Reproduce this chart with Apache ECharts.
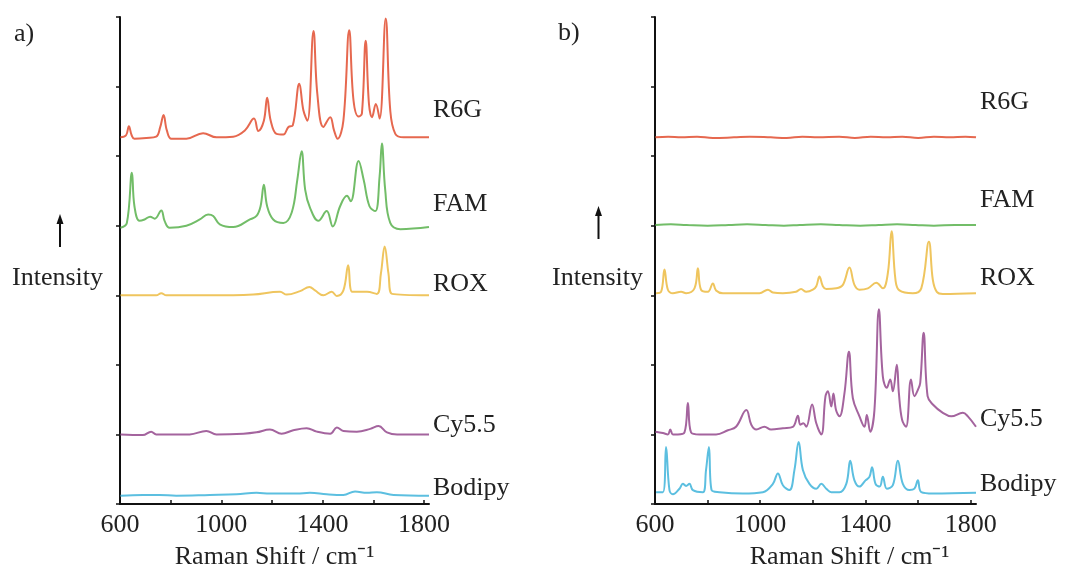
<!DOCTYPE html>
<html lang="en">
<head>
<meta charset="UTF-8">
<title>Raman spectra</title>
<script src="https://cdn.jsdelivr.net/npm/echarts@6/dist/echarts.min.js"></script>
<style>
  html, body { margin: 0; padding: 0; background: #fff; }
  #main { width: 1065px; height: 574px; }
</style>
</head>
<body>
<div id="main"></div>
<script>
// dye names, same order in both panels
var names = ['R6G', 'FAM', 'ROX', 'Cy5.5', 'Bodipy'];

// vertical offsets of each trace (stacked display), per panel
var offsetsA = [527, 397, 300, 100, 12];
var offsetsB = [527, 401, 303, 100, 15];

// x tick values
var xTicks = [600, 800, 1000, 1200, 1400, 1600, 1800];
var xLabels = [600, 1000, 1400, 1800];

// panel a) spectra: [Raman shift, intensity above own baseline]
var aR6G = [[602,0],[624,3],[635,16],[646,3],[657,-2],[704,-1],[743,1],[759,15],[772,32],[785,10],[803,-2],[862,-2],[928,6],[981,0],[1047,1],[1093,10],[1129,27],[1146,9],[1168,24],[1181,57],[1195,24],[1218,5],[1245,4],[1265,15],[1282,17],[1308,77],[1324,39],[1340,24],[1364,153],[1379,63],[1403,15],[1430,29],[1445,10],[1459,-2],[1482,24],[1505,154],[1522,53],[1542,30],[1555,34],[1570,139],[1583,48],[1595,29],[1610,48],[1625,27],[1649,171],[1667,39],[1687,5],[1720,0],[1820,0]];
var aFAM = [[602,0],[627,7],[647,79],[657,31],[677,10],[697,12],[719,16],[737,13],[763,25],[776,10],[796,0],[862,3],[915,12],[948,19],[968,17],[994,5],[1047,1],[1113,12],[1139,17],[1155,31],[1168,62],[1181,31],[1205,12],[1245,7],[1278,22],[1300,69],[1317,110],[1331,55],[1350,29],[1383,10],[1416,24],[1440,2],[1469,31],[1496,46],[1511,38],[1542,96],[1562,69],[1585,31],[1608,24],[1625,74],[1634,121],[1647,55],[1667,7],[1707,-2],[1820,1]];
var aROX = [[602,0],[743,0],[763,3],[783,0],[1047,0],[1126,1],[1232,5],[1258,1],[1311,6],[1348,12],[1370,7],[1403,0],[1436,5],[1456,-1],[1482,7],[1501,43],[1517,5],[1548,5],[1575,5],[1614,2],[1630,31],[1645,70],[1660,31],[1674,2],[1820,0]];
var aCy = [[602,0],[690,-1],[723,4],[743,0],[875,0],[941,5],[981,0],[1087,1],[1139,3],[1192,7],[1238,1],[1284,6],[1337,9],[1377,4],[1430,1],[1456,10],[1482,5],[1535,4],[1588,8],[1621,12],[1654,3],[1694,0],[1820,0]];
var aBod = [[602,0],[690,1],[756,1],[822,0],[954,1],[1060,2],[1139,4],[1192,3],[1298,3],[1350,4],[1416,2],[1482,1],[1528,6],[1575,4],[1614,5],[1680,1],[1820,0]];

// panel b) spectra
var bR6G = [[602,0],[650,1],[700,0],[760,1],[820,-1],[900,0],[960,1],[1040,0],[1100,-1],[1160,1],[1220,0],[1300,1],[1360,-1],[1420,1],[1480,0],[1540,1],[1600,-1],[1660,1],[1720,0],[1780,1],[1820,0]];
var bFAM = [[602,0],[660,1],[720,0],[800,-1],[880,0],[950,1],[1020,0],[1090,-1],[1150,0],[1230,1],[1300,0],[1380,-1],[1450,0],[1520,1],[1590,0],[1660,-1],[1740,0],[1820,0]];
var bROX = [[604,0],[623,2],[636,34],[649,5],[668,0],[699,2],[718,0],[750,7],[763,36],[775,5],[801,2],[820,14],[832,4],[858,0],[934,0],[997,0],[1029,5],[1048,1],[1086,0],[1136,2],[1155,6],[1175,2],[1200,5],[1213,10],[1225,24],[1238,10],[1251,6],[1289,7],[1314,12],[1339,37],[1358,12],[1377,5],[1409,7],[1441,15],[1466,7],[1485,29],[1499,89],[1514,19],[1529,4],[1580,0],[1612,7],[1641,74],[1656,19],[1671,2],[1694,-1],[1820,0]];
var bCy = [[602,4],[630,2],[649,0],[658,7],[668,0],[687,0],[712,3],[725,45],[737,3],[769,0],[832,0],[877,6],[908,11],[947,35],[966,14],[985,7],[1016,11],[1041,7],[1086,9],[1124,11],[1143,27],[1152,14],[1164,16],[1175,11],[1197,43],[1213,16],[1232,0],[1248,55],[1257,62],[1270,40],[1278,59],[1288,35],[1301,26],[1320,59],[1337,119],[1352,52],[1377,26],[1396,11],[1405,28],[1418,4],[1434,35],[1451,180],[1466,83],[1481,67],[1494,79],[1504,62],[1519,100],[1527,59],[1539,21],[1554,11],[1573,79],[1586,55],[1599,64],[1608,74],[1621,146],[1636,55],[1656,43],[1694,31],[1726,26],[1770,31],[1789,26],[1820,11]];
var bBod = [[604,2],[630,2],[642,67],[655,5],[668,-1],[693,7],[706,14],[718,11],[731,14],[744,5],[782,2],[794,34],[805,67],[815,5],[845,2],[934,0],[1010,2],[1048,14],[1067,29],[1086,12],[1111,5],[1130,34],[1146,74],[1162,34],[1187,14],[1213,7],[1232,14],[1251,7],[1270,2],[1301,2],[1327,14],[1342,47],[1358,19],[1377,10],[1400,19],[1415,24],[1425,38],[1438,14],[1454,10],[1466,24],[1481,7],[1504,12],[1523,47],[1542,14],[1567,5],[1586,7],[1599,19],[1612,2],[1656,0],[1820,1]];

var spectraA = [aR6G, aFAM, aROX, aCy, aBod];
var spectraB = [bR6G, bFAM, bROX, bCy, bBod];

var colors = ['#e6684f', '#72bd68', '#efc55e', '#a4649e', '#5cbfe0'];
var labelLiftA = [27, 23, 11, 9, 7];
var labelLiftB = [35, 25, 15, 8, 9];

var FONT = '"Liberation Serif", "Times New Roman", serif';
var TXT = '#222';
var FS = 26;

var myChart = echarts.init(document.getElementById('main'));

function xAxisOf(gi, nameShift) {
    return {
        type: 'value', gridIndex: gi, min: 600, max: 1820,
        name: 'Raman Shift / cm\u207B\u00B9',
        nameLocation: 'middle', nameGap: 40,
        nameTextStyle: { fontFamily: FONT, fontSize: FS, color: TXT, padding: [0, 0, 0, nameShift] },
        axisLine: { lineStyle: { color: '#111', width: 2 } },
        axisTick: { inside: true, length: 4, lineStyle: { color: '#111', width: 1.5 }, customValues: xTicks },
        axisLabel: {
            fontFamily: FONT, fontSize: FS, color: TXT, margin: 8, customValues: xLabels,
            formatter: function (v) { return String(v); }
        },
        splitLine: { show: false }
    };
}
function yAxisOf(gi) {
    return {
        type: 'value', gridIndex: gi, min: 0, max: 700, interval: 100,
        axisLine: { show: true, lineStyle: { color: '#111', width: 2 } },
        axisTick: { show: true, inside: false, length: 4, lineStyle: { color: '#111', width: 1.5 } },
        axisLabel: { show: false },
        splitLine: { show: false }
    };
}

function buildSeries(spectra, offsets, lifts, gi) {
    return spectra.map(function (pts, i) {
        return {
            name: names[i], type: 'line',
            xAxisIndex: gi, yAxisIndex: gi,
            data: pts.map(function (p) { return [p[0], p[1] + offsets[i]]; }),
            showSymbol: false, smooth: 0.4,
            lineStyle: { color: colors[i], width: 2 },
            endLabel: {
                show: true, formatter: names[i], distance: 4,
                offset: [0, -lifts[i]],
                fontFamily: FONT, fontSize: FS, color: TXT
            }
        };
    });
}

function arrow(x, tip, bottom) {
    return [
        { type: 'line', shape: { x1: x, y1: tip + 8, x2: x, y2: bottom }, style: { stroke: '#111', lineWidth: 2 } },
        { type: 'polygon', shape: { points: [[x, tip], [x - 3.5, tip + 10], [x + 3.5, tip + 10]] }, style: { fill: '#111' } }
    ];
}

var option = {
    animation: false,
    backgroundColor: '#fff',
    grid: [
        { left: 120, top: 17, width: 309, height: 487, outerBoundsMode: 'none' },
        { left: 655, top: 17, width: 321, height: 487, outerBoundsMode: 'none' }
    ],
    xAxis: [xAxisOf(0, 0), xAxisOf(1, 68)],
    yAxis: [yAxisOf(0), yAxisOf(1)],
    series: buildSeries(spectraA, offsetsA, labelLiftA, 0).concat(buildSeries(spectraB, offsetsB, labelLiftB, 1)),
    graphic: [
        { type: 'text', style: { text: 'a)', x: 14, y: 34, verticalAlign: 'middle', font: FS + 'px ' + FONT, fill: TXT } },
        { type: 'text', style: { text: 'b)', x: 558, y: 33, verticalAlign: 'middle', font: FS + 'px ' + FONT, fill: TXT } },
        { type: 'text', style: { text: 'Intensity', x: 12, y: 278, verticalAlign: 'middle', font: FS + 'px ' + FONT, fill: TXT } },
        { type: 'text', style: { text: 'Intensity', x: 552, y: 278, verticalAlign: 'middle', font: FS + 'px ' + FONT, fill: TXT } }
    ].concat(arrow(60, 214, 247), arrow(598.5, 206, 239))
};

myChart.setOption(option);
</script>
</body>
</html>
